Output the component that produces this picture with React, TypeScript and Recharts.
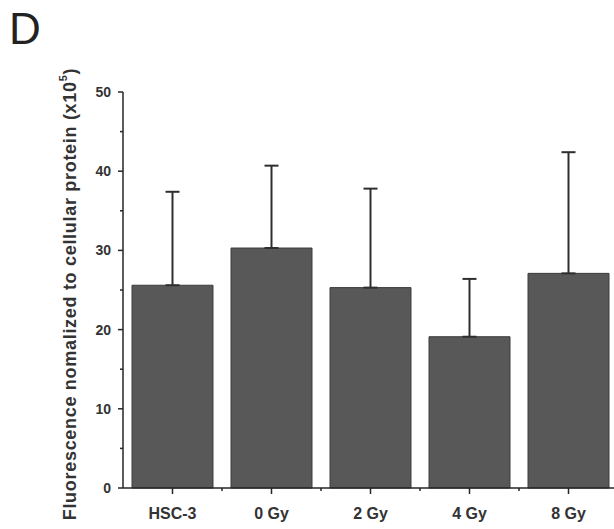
import React from 'react';
import { BarChart, Bar, XAxis, YAxis, ErrorBar } from 'recharts';

const groups = ['HSC-3', '0 Gy', '2 Gy', '4 Gy', '8 Gy'];
const means = [25.6, 30.3, 25.3, 19.1, 27.1];
const sdUp = [11.8, 10.4, 12.5, 7.3, 15.3];
const yTicks = [0, 5, 10, 15, 20, 25, 30, 35, 40, 45, 50];

const data = groups.map((g, i) => ({ name: g, value: means[i], err: [0, sdUp[i]] }));

const INK = '#262626';
const FONT = '"Liberation Sans", Arial, sans-serif';

const YTick = (props: any) => {
  const { x, y, payload } = props;
  const major = payload.value % 10 === 0;
  return (
    <g>
      <line x1={x - (major ? 5 : 3)} x2={x} y1={y} y2={y} stroke={INK} strokeWidth={1.5} />
      {major && (
        <text x={x - 12} y={y} dy={5} textAnchor="end" fontFamily={FONT} fontWeight="bold" fontSize={14} fill="#333">
          {payload.value}
        </text>
      )}
    </g>
  );
};

const XTick = (props: any) => {
  const { x, y, payload } = props;
  // half of a category band, for the minor tick on the boundary
  const half = 49.5;
  return (
    <g>
      <line x1={x} x2={x} y1={y} y2={y + 6} stroke={INK} strokeWidth={1.5} />
      <line x1={x + half} x2={x + half} y1={y} y2={y + 3} stroke={INK} strokeWidth={1.5} />
      <text x={x} y={y + 31} textAnchor="middle" fontFamily={FONT} fontWeight="bold" fontSize={16} fill="#333">
        {payload.value}
      </text>
    </g>
  );
};

const YLabel = () => (
  <text
    x={70}
    y={294}
    transform="rotate(-90 70 294)"
    textAnchor="middle"
    dominantBaseline="central"
    fontFamily={FONT}
    fontWeight="bold"
    fontSize={18}
    letterSpacing={0.7}
    fill="#333"
  >
    Fluorescence nomalized to cellular protein (x10<tspan dy={-7} fontSize={11}>5</tspan><tspan dy={7}>)</tspan>
  </text>
);

export default function App() {
  return (
    <div style={{ position: 'absolute', left: 0, top: 0, width: 614, height: 529, overflow: 'hidden', background: '#fff' }}>
      <svg width={60} height={60} style={{ position: 'absolute', left: 0, top: 0 }}>
        <text x={9} y={44} fontFamily={FONT} fontSize={44} fill="#222">D</text>
      </svg>
      <BarChart
        width={620}
        height={529}
        data={data}
        margin={{ top: 92, right: 2, bottom: 0, left: 0 }}
        barCategoryGap={9}
      >
        <XAxis
          dataKey="name"
          height={41}
          tickSize={0}
          tickMargin={0}
          tick={<XTick />}
          axisLine={{ stroke: INK, strokeWidth: 1.5 }}
          tickLine={false}
          interval={0}
        />
        <YAxis
          width={123}
          domain={[0, 50]}
          ticks={yTicks}
          interval={0}
          tickSize={0}
          tickMargin={0}
          tick={<YTick />}
          tickLine={false}
          axisLine={{ stroke: INK, strokeWidth: 1.5 }}
          label={{ content: () => <YLabel /> }}
        />
        <Bar dataKey="value" fill="#585858" stroke="#3c3c3c" strokeWidth={1} isAnimationActive={false}>
          <ErrorBar dataKey="err" width={7} stroke="#2e2e2e" strokeWidth={2} direction="y" isAnimationActive={false} />
        </Bar>
      </BarChart>
    </div>
  );
}
